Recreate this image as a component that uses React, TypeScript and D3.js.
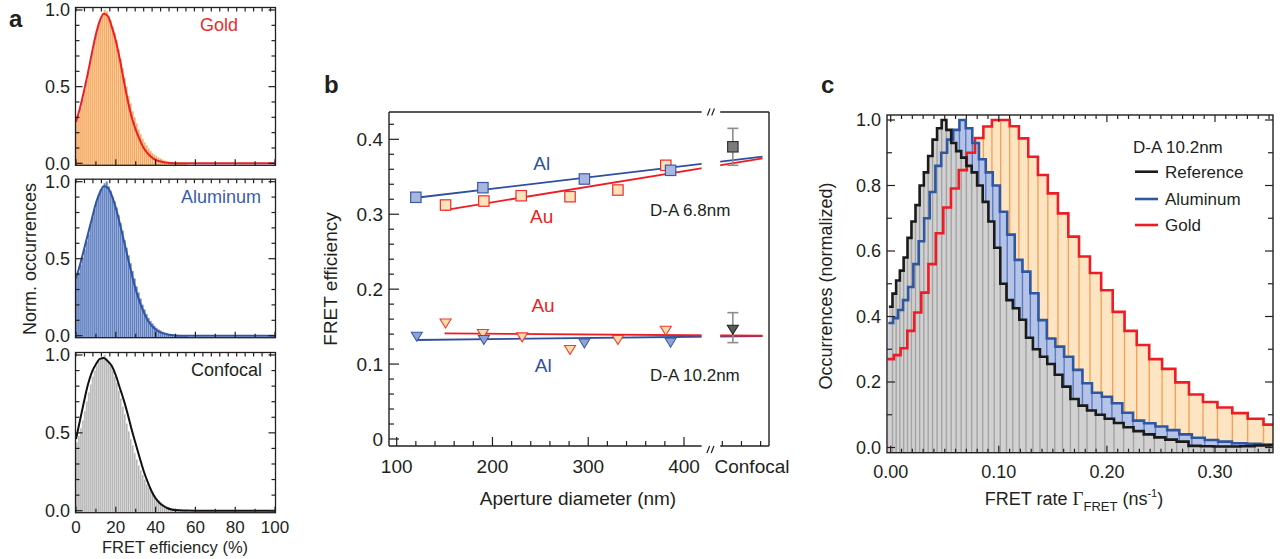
import React from "react";
import * as d3 from "d3";

const FONT = "'Liberation Sans', Arial, Helvetica, sans-serif";

// ---------------- Panel a : FRET efficiency histograms (1 % bins from 0 %) ----------------
const goldHistA = [0.28,0.31,0.36,0.42,0.48,0.54,0.61,0.68,0.74,0.81,0.87,0.91,0.95,0.98,1.0,0.99,0.96,0.93,0.89,0.85,0.80,0.74,0.68,0.62,0.56,0.50,0.44,0.39,0.34,0.30,0.26,0.22,0.19,0.16,0.135,0.115,0.095,0.08,0.065,0.055,0.045,0.037,0.03,0.024,0.019,0.015,0.011,0.008,0.006,0.005,0.004,0.003,0.003,0.002,0.002,0.002];
const alumHistA = [0.38,0.41,0.46,0.51,0.56,0.61,0.66,0.72,0.77,0.82,0.87,0.91,0.95,0.97,0.99,1.0,0.97,0.94,0.90,0.87,0.83,0.78,0.73,0.68,0.62,0.57,0.52,0.47,0.42,0.37,0.32,0.28,0.24,0.20,0.17,0.14,0.115,0.095,0.078,0.063,0.05,0.04,0.032,0.025,0.019,0.014,0.01,0.007,0.005,0.004,0.003,0.002,0.002,0.001,0.001,0.001];
const confHistA = [0.44,0.48,0.53,0.58,0.64,0.70,0.76,0.81,0.86,0.90,0.93,0.96,0.98,0.99,1.0,0.98,0.96,0.93,0.90,0.86,0.82,0.77,0.72,0.67,0.62,0.56,0.51,0.46,0.42,0.37,0.33,0.29,0.26,0.23,0.20,0.17,0.15,0.13,0.11,0.095,0.08,0.067,0.055,0.045,0.036,0.028,0.021,0.016,0.012,0.009,0.007,0.005,0.004,0.003,0.002,0.002];

const fitEff = [0,2,4,6,8,10,12,14,16,18,20,22,24,26,28,30,32,34,36,38,40,42,44,46,48,50,55,60,100];
const goldFitA = [0.27,0.36,0.47,0.59,0.72,0.84,0.93,0.975,0.96,0.89,0.80,0.68,0.54,0.41,0.30,0.22,0.155,0.10,0.065,0.04,0.022,0.013,0.007,0.004,0.002,0.001,0,0,0];
const alumFitA = [0.37,0.46,0.56,0.66,0.76,0.86,0.93,0.97,0.96,0.91,0.83,0.73,0.62,0.51,0.40,0.30,0.22,0.155,0.10,0.065,0.04,0.025,0.015,0.008,0.004,0.002,0,0,0];
const confFitA = [0.46,0.58,0.70,0.81,0.89,0.94,0.975,0.98,0.96,0.93,0.87,0.79,0.71,0.62,0.52,0.43,0.34,0.255,0.185,0.125,0.08,0.05,0.03,0.016,0.008,0.004,0.001,0,0];

const effTicksA = [0, 20, 40, 60, 80, 100];
const occTicksA = [0, 0.5, 1.0];

// ---------------- Panel b : FRET efficiency vs aperture diameter ----------------
const alDiam68 = [120, 190, 296, 386];
const alEff68 = [0.3226, 0.3354, 0.347, 0.3586];
const auDiam68 = [151, 191, 230, 281, 331, 381];
const auEff68 = [0.3123, 0.3176, 0.3247, 0.3234, 0.3323, 0.3653];
const alDiam102 = [121, 191, 296, 386];
const alEff102 = [0.1375, 0.133, 0.1285, 0.1295];
const auDiam102 = [151, 190, 231, 281, 331, 381];
const auEff102 = [0.155, 0.141, 0.1366, 0.1197, 0.133, 0.1455];
// linear fits: [start, end] diameters and efficiencies
const fitDiam = [120, 482];
const fitDiamAu = [150, 482];
const alFit68 = [0.322, 0.3768];
const auFit68 = [0.3056, 0.3745];
const alFit102 = [0.1321, 0.1375];
const auFit102 = [0.141, 0.1378];
// confocal reference (mean, low, high)
const confocal68 = [0.39, 0.3653, 0.4146];
const confocal102 = [0.1468, 0.1286, 0.1686];
const effTicksB = [0, 0.1, 0.2, 0.3, 0.4];
const diamTicksB = [100, 200, 300, 400];

// ---------------- Panel c : FRET-rate histograms (same 1 % efficiency bins, mapped to rate) ----------------
const gammaGold = 0.6;   // donor decay rate (ns^-1)
const gammaAlum = 0.445;
const gammaRef = 0.33;
const goldHistC = [0.27,0.282,0.303,0.356,0.412,0.473,0.560,0.654,0.733,0.791,0.847,0.900,0.945,0.980,1.0,1.0,0.981,0.944,0.888,0.832,0.776,0.715,0.644,0.583,0.533,0.480,0.414,0.356,0.313,0.270,0.240,0.199,0.162,0.139,0.122,0.105,0.088,0.070,0.06];
const alumHistC = [0.38,0.395,0.42,0.45,0.49,0.56,0.63,0.70,0.78,0.86,0.90,0.94,0.97,1.0,0.975,0.93,0.88,0.84,0.80,0.72,0.65,0.573,0.537,0.471,0.389,0.333,0.308,0.277,0.237,0.196,0.167,0.155,0.135,0.106,0.082,0.074,0.064,0.053,0.040,0.030,0.023,0.018,0.013,0.011,0.009,0.007,0.005,0.004,0.003,0.002,0.002];
const refHistC = [0.43,0.47,0.51,0.54,0.58,0.64,0.69,0.74,0.80,0.84,0.89,0.94,0.975,1.0,0.97,0.93,0.905,0.885,0.86,0.84,0.80,0.75,0.69,0.61,0.50,0.45,0.425,0.39,0.335,0.30,0.277,0.255,0.222,0.186,0.148,0.128,0.113,0.100,0.088,0.075,0.062,0.050,0.040,0.031,0.024,0.018,0.005,0.004,0.003,0.003,0.004,0.006,0.007,0.007];
const rateTicksC = [0, 0.1, 0.2, 0.3];
const occTicksC = [0, 0.2, 0.4, 0.6, 0.8, 1.0];
const legendC = ["Reference", "Aluminum", "Gold"];

const INK = "#231f20";

function PanelA() {
  const x = d3.scaleLinear().domain([0, 100]).range([76, 275]);
  const sets = [
    { hist: goldHistA, fit: goldFitA, fill: "#f7a85e", edge: "#fcd8b2", line: "#e8202a", name: "Gold", color: "#ee2b2b", top: 10, bottom: 163.3, nameX: 238 },
    { hist: alumHistA, fit: alumFitA, fill: "#5f7fc1", edge: "#a9bbe0", line: "#2f55a3", name: "Aluminum", color: "#3a5da8", top: 181.7, bottom: 335.7, nameX: 261 },
    { hist: confHistA, fit: confFitA, fill: "#b4b4b4", edge: "#e2e2e2", line: "#111", name: "Confocal", color: INK, top: 355, bottom: 510.7, nameX: 262 },
  ];
  const minorY = d3.range(0, 11).map((d) => d / 10);
  const bottomTicks = d3.range(0, 101, 10);
  const topTicks = d3.range(0, 101, 4.25);
  return (
    <g>
      {sets.map((s, i) => {
        const y = d3.scaleLinear().domain([0, 1]).range([s.bottom, s.top]);
        const fTop = s.top - 2.5;
        const fBot = s.bottom + 2;
        const fL = x(0) - 0.5;
        const fR = x(100) + 0.5;
        const line = d3
          .line<number>()
          .x((_, j) => x(fitEff[j]))
          .y((d) => y(d))
          .curve(d3.curveMonotoneX);
        return (
          <g key={i}>
            {s.hist.map((h, k) => (
              <rect key={k} x={x(k)} width={x(k + 1) - x(k)} y={y(h)} height={fBot - y(h)} fill={s.fill} stroke={s.edge} strokeWidth={0.5} />
            ))}
            <path d={line(s.fit) || ""} fill="none" stroke={s.line} strokeWidth={2} />
            <rect x={fL} y={fTop} width={fR - fL} height={fBot - fTop} fill="none" stroke={INK} strokeWidth={1.3} />
            {minorY.map((v) => {
              const len = v === 0 || v === 0.5 || v === 1 ? 7 : 4;
              return (
                <g key={"yt" + v}>
                  <line x1={fL} x2={fL + len} y1={y(v)} y2={y(v)} stroke={INK} strokeWidth={1.2} />
                  <line x1={fR} x2={fR - len} y1={y(v)} y2={y(v)} stroke={INK} strokeWidth={1.2} />
                </g>
              );
            })}
            {bottomTicks.map((v) => (
              <line key={"bt" + v} x1={x(v)} x2={x(v)} y1={fBot} y2={fBot - (v % 20 === 0 ? 6 : 4)} stroke={INK} strokeWidth={1.2} />
            ))}
            {topTicks.map((v) => (
              <line key={"tt" + v} x1={x(v)} x2={x(v)} y1={fTop} y2={fTop + 4} stroke={INK} strokeWidth={1.2} />
            ))}
            {occTicksA.map((v) => (
              <text key={"yl" + v} x={70} y={y(v)} dy="0.35em" textAnchor="end" fontSize={18} fill={INK}>
                {d3.format(".1f")(v)}
              </text>
            ))}
            <text x={s.nameX} y={s.top + 21} textAnchor="end" fontSize={18} fill={s.color}>
              {s.name}
            </text>
            {i === 2 &&
              effTicksA.map((v) => (
                <text key={"xl" + v} x={x(v)} y={533} textAnchor="middle" fontSize={17} fill={INK}>
                  {v}
                </text>
              ))}
          </g>
        );
      })}
      <text x={175} y={553} textAnchor="middle" fontSize={16.5} fill={INK}>
        FRET efficiency (%)
      </text>
      <text transform="translate(36,259) rotate(-90)" textAnchor="middle" fontSize={18} fill={INK}>
        Norm. occurrences
      </text>
      <text x={9} y={27} fontSize={24} fontWeight="bold" fill={INK}>
        a
      </text>
    </g>
  );
}

function PanelB() {
  const x = d3.scaleLinear().domain([100, 400]).range([396.7, 684]);
  const y = d3.scaleLinear().domain([0, 0.4]).range([439, 139.3]);
  const L = 389, R = 769, T = 112, B = 446;
  const gapL = x(418.4), gapR = x(437.8);
  const confX = x(451);
  const AL = "#2e4f9e", AU = "#ee1d24";
  const sq = (cx: number, cy: number, fill: string, stroke: string, key: string) => (
    <rect key={key} x={cx - 5.2} y={cy - 5.2} width={10.4} height={10.4} fill={fill} stroke={stroke} strokeWidth={1.2} />
  );
  const tri = (cx: number, cy: number, fill: string, stroke: string, key: string) => (
    <path key={key} d={`M${cx - 5.5},${cy - 3.8}L${cx + 5.5},${cy - 3.8}L${cx},${cy + 5.2}Z`} fill={fill} stroke={stroke} strokeWidth={1.1} />
  );
  const fitLine = (d0: number[], v: number[], color: string, key: string) => (
    <line key={key} x1={x(d0[0])} x2={x(d0[1])} y1={y(v[0])} y2={y(v[1])} stroke={color} strokeWidth={1.8} clipPath="url(#bBreak)" />
  );
  const minorY = d3.range(0, 22).map((d) => d * 0.02);
  const minorX = d3.range(120, 420, 20).filter((d) => d % 100 !== 0);
  const confTicks = [440, 460, 480];
  const errBar = (v: number[], key: string) => (
    <g key={key} stroke="#8d8d8d" strokeWidth={1.6}>
      <line x1={confX} x2={confX} y1={y(v[1])} y2={y(v[2])} />
      <line x1={confX - 5.5} x2={confX + 5.5} y1={y(v[1])} y2={y(v[1])} />
      <line x1={confX - 5.5} x2={confX + 5.5} y1={y(v[2])} y2={y(v[2])} />
    </g>
  );
  const slash = (cx: number, cy: number) => (
    <g stroke={INK} strokeWidth={1.2}>
      <line x1={cx - 3.5} y1={cy + 3.5} x2={cx - 0.8} y2={cy - 3.5} />
      <line x1={cx + 0.8} y1={cy + 3.5} x2={cx + 3.5} y2={cy - 3.5} />
    </g>
  );
  return (
    <g>
      <defs>
        <clipPath id="bBreak">
          <rect x={L} y={T} width={gapL - L} height={B - T} />
          <rect x={gapR} y={T} width={R - gapR} height={B - T} />
        </clipPath>
      </defs>
      {/* frame */}
      <g stroke={INK} strokeWidth={1.4} fill="none">
        <line x1={L} x2={L} y1={T} y2={B} />
        <line x1={R} x2={R} y1={T} y2={B} />
        <line x1={L} x2={gapL} y1={T} y2={T} />
        <line x1={gapR} x2={R} y1={T} y2={T} />
        <line x1={L} x2={gapL} y1={B} y2={B} />
        <line x1={gapR} x2={R} y1={B} y2={B} />
      </g>
      {slash((gapL + gapR) / 2, T)}
      {slash((gapL + gapR) / 2 - 0.5, B + 3.5)}
      {minorY.map((v, i) => (
        <line key={"my" + i} x1={L} x2={L + (i % 5 === 0 ? 10 : 5)} y1={y(v)} y2={y(v)} stroke={INK} strokeWidth={1.2} />
      ))}
      {diamTicksB.map((v) => (
        <line key={"Mx" + v} x1={x(v)} x2={x(v)} y1={B} y2={B - 9} stroke={INK} strokeWidth={1.2} />
      ))}
      {minorX.concat(confTicks).map((v) => (
        <line key={"mx" + v} x1={x(v)} x2={x(v)} y1={B} y2={B - 5} stroke={INK} strokeWidth={1.2} />
      ))}
      {effTicksB.map((v) => (
        <text key={"yl" + v} x={383} y={y(v)} dy="0.35em" textAnchor="end" fontSize={19} fill={INK}>
          {v === 0 ? "0" : d3.format(".1f")(v)}
        </text>
      ))}
      {diamTicksB.map((v) => (
        <text key={"xl" + v} x={x(v)} y={473} textAnchor="middle" fontSize={19} fill={INK}>
          {v}
        </text>
      ))}
      <text x={752} y={473} textAnchor="middle" fontSize={19} fill={INK}>
        Confocal
      </text>
      <text x={578} y={505} textAnchor="middle" fontSize={19} fill={INK}>
        Aperture diameter (nm)
      </text>
      <text transform="translate(337,279) rotate(-90)" textAnchor="middle" fontSize={19} fill={INK}>
        FRET efficiency
      </text>
      {/* fits */}
      {fitLine(fitDiam, alFit68, AL, "f1")}
      {fitLine(fitDiamAu, auFit68, AU, "f2")}
      {fitLine(fitDiam, alFit102, AL, "f3")}
      {fitLine(fitDiamAu, auFit102, AU, "f4")}
      {/* confocal references */}
      {errBar(confocal68, "e1")}
      {errBar(confocal102, "e2")}
      {sq(confX, y(confocal68[0]), "#7c7c7c", "#333", "c1")}
      {tri(confX, y(confocal102[0]), "#5a5a5a", "#222", "c2")}
      {/* data points */}
      {auDiam68.map((d, i) => sq(x(d), y(auEff68[i]), "#fde3bb", "#ef2b2d", "au68" + i))}
      {alDiam68.map((d, i) => sq(x(d), y(alEff68[i]), "#a9b6de", "#3a5aa8", "al68" + i))}
      {auDiam102.map((d, i) => tri(x(d), y(auEff102[i]), "#fddcab", "#ef3b2d", "au102" + i))}
      {alDiam102.map((d, i) => tri(x(d), y(alEff102[i]), "#8fa3d4", "#3a5aa8", "al102" + i))}
      {/* annotations */}
      <text x={541.7} y={163.3} dy="0.35em" textAnchor="middle" fontSize={19} fill={AL}>Al</text>
      <text x={541.7} y={216.7} dy="0.35em" textAnchor="middle" fontSize={19} fill={AU}>Au</text>
      <text x={650} y={210} dy="0.35em" fontSize={17} fill={INK}>D-A 6.8nm</text>
      <text x={543} y={305} dy="0.35em" textAnchor="middle" fontSize={19} fill={AU}>Au</text>
      <text x={543.3} y={365} dy="0.35em" textAnchor="middle" fontSize={19} fill={AL}>Al</text>
      <text x={650} y={375} dy="0.35em" fontSize={17} fill={INK}>D-A 10.2nm</text>
      <text x={324} y={93} fontSize={24} fontWeight="bold" fill={INK}>b</text>
    </g>
  );
}

function PanelC() {
  const x = d3.scaleLinear().domain([0, 0.3]).range([890.7, 1215]);
  const y = d3.scaleLinear().domain([0, 1]).range([447.5, 120]);
  const L = 887, R = 1273, T = 115, B = 452.7;
  const rate = (gamma: number, k: number) => {
    const e = (k - 0.5) / 100;
    return (gamma * e) / (1 - e);
  };
  const series = [
    { hist: goldHistC, gamma: gammaGold, fill: "#fde5c4", sep: "#f5a257", line: "#ee1c24" },
    { hist: alumHistC, gamma: gammaAlum, fill: "#b5c3e6", sep: "#5b7cc0", line: "#2f56a3" },
    { hist: refHistC, gamma: gammaRef, fill: "#d1d1d1", sep: "#a3a3a3", line: "#1a1a1a" },
  ];
  const bins = (s: (typeof series)[number]) =>
    s.hist.map((h, k) => ({ x0: x(rate(s.gamma, k)), x1: x(rate(s.gamma, k + 1)), y: y(h) }));
  const stepPath = (b: { x0: number; x1: number; y: number }[]) => {
    let d = `M${b[0].x0},${b[0].y}`;
    b.forEach((bin, i) => {
      if (i > 0) d += `V${bin.y}`;
      d += `H${bin.x1}`;
    });
    return d;
  };
  const yMinor = d3.range(0, 11).map((d) => d / 10);
  const xMinor = d3.range(0, 36).map((d) => d / 100);
  const legendColors = ["#1a1a1a", "#2f56a3", "#ee1c24"];
  const legendY = [171.7, 199, 225];
  return (
    <g>
      <defs>
        <clipPath id="cClip">
          <rect x={L} y={T} width={R - L} height={B - T} />
        </clipPath>
      </defs>
      <g clipPath="url(#cClip)">
        {series.map((s, si) => (
          <g key={"f" + si}>
            {bins(s).map((b, k) => (
              <rect key={k} x={b.x0} width={b.x1 - b.x0} y={b.y} height={B - b.y} fill={s.fill} />
            ))}
            {bins(s).map((b, k) => (
              <line key={"s" + k} x1={b.x1} x2={b.x1} y1={B} y2={b.y} stroke={s.sep} strokeWidth={1.4} />
            ))}
          </g>
        ))}
        {series.map((s, si) => (
          <path key={"o" + si} d={stepPath(bins(s))} fill="none" stroke={s.line} strokeWidth={2.6} strokeLinejoin="miter" />
        ))}
      </g>
      <rect x={L} y={T} width={R - L} height={B - T} fill="none" stroke={INK} strokeWidth={1.4} />
      {yMinor.map((v, i) => (
        <g key={"yt" + i}>
          <line x1={L} x2={L + (i % 2 === 0 ? 8 : 5)} y1={y(v)} y2={y(v)} stroke={INK} strokeWidth={1.2} />
          <line x1={R} x2={R - (i % 2 === 0 ? 8 : 5)} y1={y(v)} y2={y(v)} stroke={INK} strokeWidth={1.2} />
        </g>
      ))}
      {xMinor.map((v, i) => (
        <g key={"xt" + i}>
          <line x1={x(v)} x2={x(v)} y1={T} y2={T + (i % 10 === 0 ? 7 : 4)} stroke={INK} strokeWidth={1.2} />
          <line x1={x(v)} x2={x(v)} y1={B} y2={B - (i % 10 === 0 ? 7 : 4)} stroke={INK} strokeWidth={1.2} />
        </g>
      ))}
      {occTicksC.map((v) => (
        <text key={"yl" + v} x={881} y={y(v)} dy="0.35em" textAnchor="end" fontSize={18} fill={INK}>
          {d3.format(".1f")(v)}
        </text>
      ))}
      {rateTicksC.map((v) => (
        <text key={"xl" + v} x={x(v)} y={478} textAnchor="middle" fontSize={18} fill={INK}>
          {d3.format(".2f")(v)}
        </text>
      ))}
      <text transform="translate(832,286) rotate(-90)" textAnchor="middle" fontSize={18} fill={INK}>
        Occurrences (normalized)
      </text>
      <text x={1074} y={505} textAnchor="middle" fontSize={18} fill={INK}>
        FRET rate <tspan fontFamily="'Liberation Serif', 'Times New Roman', serif" fontSize={19}>Γ</tspan>
        <tspan fontSize={13} dy={6}>FRET</tspan>
        <tspan dy={-6}> (ns</tspan>
        <tspan fontSize={11} dy={-8}>-1</tspan>
        <tspan dy={8}>)</tspan>
      </text>
      <text x={1133} y={147} dy="0.35em" fontSize={17} fill={INK}>D-A 10.2nm</text>
      {legendC.map((name, i) => (
        <g key={name}>
          <line x1={1135} x2={1158} y1={legendY[i]} y2={legendY[i]} stroke={legendColors[i]} strokeWidth={2.6} />
          <text x={1165} y={legendY[i]} dy="0.35em" fontSize={17} fill={INK}>{name}</text>
        </g>
      ))}
      <text x={821} y={93} fontSize={24} fontWeight="bold" fill={INK}>c</text>
    </g>
  );
}

export default function App() {
  return (
    <svg
      width={1288}
      height={559}
      viewBox="0 0 1288 559"
      style={{ position: "absolute", left: 0, top: 0, background: "#fff" }}
      fontFamily={FONT}
    >
      <rect x={0} y={0} width={1288} height={559} fill="#fff" />
      <PanelA />
      <PanelB />
      <PanelC />
    </svg>
  );
}
